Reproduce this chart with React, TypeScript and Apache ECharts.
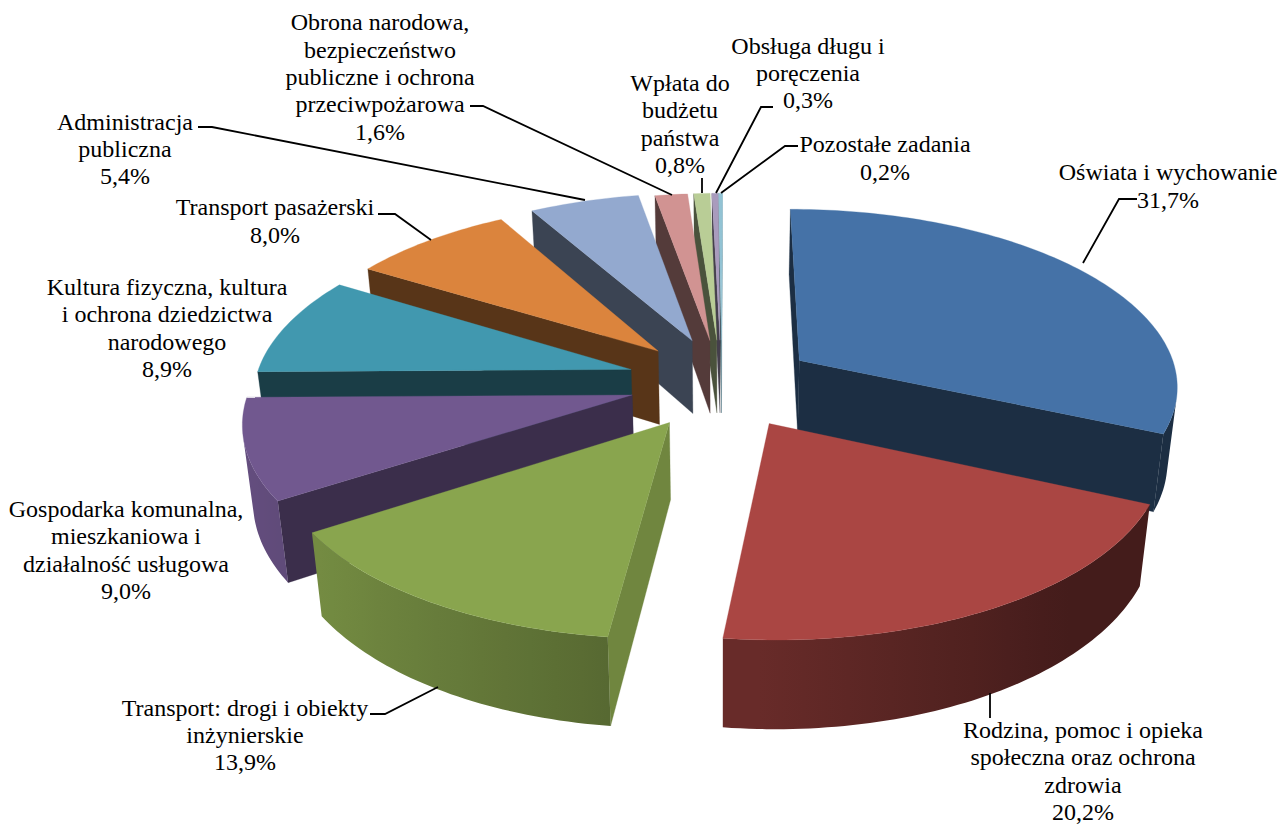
import React, { useEffect, useRef } from "react";
import * as echarts from "echarts";

// ---- data (clockwise from the back of the pie) ----
const categories: string[][] = [
  ["Oświata i wychowanie"],
  ["Rodzina, pomoc i opieka", "społeczna oraz ochrona", "zdrowia"],
  ["Transport: drogi i obiekty", "inżynierskie"],
  ["Gospodarka komunalna,", "mieszkaniowa i", "działalność usługowa"],
  ["Kultura fizyczna, kultura", "i ochrona dziedzictwa", "narodowego"],
  ["Transport pasażerski"],
  ["Administracja", "publiczna"],
  ["Obrona narodowa,", "bezpieczeństwo", "publiczne i ochrona", "przeciwpożarowa"],
  ["Wpłata do", "budżetu", "państwa"],
  ["Obsługa długu i", "poręczenia"],
  ["Pozostałe zadania"],
];
const values: number[] = [31.7, 20.2, 13.9, 9.0, 8.9, 8.0, 5.4, 1.6, 0.8, 0.3, 0.2];

// ---- styles and layout ----
const topColors = ["#4572A7", "#AA4643", "#89A54E", "#71588F", "#4198AF", "#DB843D", "#93A9CF", "#D19392", "#B9CD96", "#A99BBD", "#92C3D4"];
const labelCentres: [number, number][] = [
  [1168, 186], [1083, 771], [245, 735], [126, 550], [167, 328], [275, 221],
  [125, 149], [380, 77], [680, 124], [808, 73], [885, 158],
];
const sliceNudge: [number, number][] = [
  [0, 0], [0, 0], [0, 0], [2, -2], [5, -3], [5, -2], [5, -3], [4, -1], [4, -1], [3, -1], [2, -1],
];
const apexNudgeX: number[] = [0, 0, 0, 3, 1, 2, 3, 1, 1, 1, 1];
const leaders: ([number, number][] | null)[] = [
  [[1137, 199], [1119, 199], [1083, 263]],
  [[990, 693], [990, 718]],
  [[370, 714], [385, 714], [438, 687]],
  null,
  null,
  [[378, 214], [395, 214], [431, 240]],
  [[198, 127], [212, 127], [585, 200]],
  [[470, 106], [483, 106], [672, 195]],
  [[702, 178], [702, 193]],
  [[773, 107], [761, 107], [716, 193]],
  [[798, 146], [785, 146], [721, 193]],
];

// perspective camera parameters
const CX = 721, CY = 384, SX = 380, SY = 176.7, PERSP = 0.131, DEPTH = 75, CONV = 0.022, EXPLODE = 0.25;

const project = (X: number, Y: number, d: number): [number, number] => {
  const w = 1 + PERSP * Y;
  return [CX + (SX * X) / (w + CONV * d), CY - (SY * Y - DEPTH * d) / w];
};

const shade = (hex: string, r: number) => {
  const n = parseInt(hex.slice(1), 16);
  const c = (s: number) => Math.round(((n >> s) & 255) * r);
  return `rgb(${c(16)},${c(8)},${c(0)})`;
};

const total = values.reduce((a, b) => a + b, 0);
const TWO_PI = Math.PI * 2;
let running = 0;
const slices = values.map((v, i) => {
  const a0 = (running / total) * TWO_PI;
  running += v;
  const a1 = (running / total) * TWO_PI;
  const mid = (a0 + a1) / 2;
  return { i, a0, a1, ox: EXPLODE * Math.sin(mid), oy: EXPLODE * Math.cos(mid), back: Math.cos(mid) };
});
const drawOrder = [...slices].sort((a, b) => b.back - a.back);

const faceVisible = (p: number[], q: number[], pb: number[], qb: number[]) => {
  const mx = (pb[0] + qb[0]) / 2 - p[0];
  const my = (pb[1] + qb[1]) / 2 - p[1];
  return (q[0] - p[0]) * my - (q[1] - p[1]) * mx < 0;
};

const radialRatio = (nx: number) => 0.4 + (nx > 0 ? 0.42 * nx * nx : 0);
const arcRatio = (nx: number) => Math.max(0.4, 0.6 - 0.3 * nx);

const buildSlice = (s: (typeof slices)[number]) => {
  const col = topColors[s.i];
  const [nudgeX, nudgeY] = sliceNudge[s.i];
  const at = (X: number, Y: number, d: number, dx = nudgeX): [number, number] => {
    const p = project(X, Y, d);
    return [p[0] + dx, p[1] + nudgeY];
  };
  const steps = Math.max(2, Math.ceil((s.a1 - s.a0) / 0.02));
  const angs: number[] = [];
  for (let k = 0; k <= steps; k++) angs.push(s.a0 + ((s.a1 - s.a0) * k) / steps);
  const ground = angs.map((a) => [s.ox + Math.sin(a), s.oy + Math.cos(a)]);
  const top = ground.map((g) => at(g[0], g[1], 0));
  const bot = ground.map((g) => at(g[0], g[1], 1));
  const apexT = at(s.ox, s.oy, 0, apexNudgeX[s.i]);
  const apexB = at(s.ox, s.oy, 1, apexNudgeX[s.i]);
  const children: any[] = [];
  const poly = (points: number[][], fill: any) => ({
    type: "polygon",
    shape: { points },
    style: { fill, stroke: typeof fill === "string" ? fill : undefined, lineWidth: typeof fill === "string" ? 0.3 : 0 },
  });

  // radial walls
  if (faceVisible(apexT, top[0], apexB, bot[0])) {
    const nx = Math.sin(s.a0 - Math.PI / 2);
    children.push(poly([apexT, top[0], bot[0], apexB], shade(col, radialRatio(nx))));
  }
  if (faceVisible(top[steps], apexT, bot[steps], apexB)) {
    const nx = Math.sin(s.a1 + Math.PI / 2);
    children.push(poly([top[steps], apexT, apexB, bot[steps]], shade(col, radialRatio(nx))));
  }

  // curved wall, in visible runs
  let k = 0;
  while (k < steps) {
    if (!faceVisible(top[k], top[k + 1], bot[k], bot[k + 1])) {
      k++;
      continue;
    }
    let e = k;
    while (e < steps && faceVisible(top[e], top[e + 1], bot[e], bot[e + 1])) e++;
    const t = top.slice(k, e + 1);
    const b = bot.slice(k, e + 1).reverse();
    const pts = [...t, ...b];
    const xs = pts.map((p) => p[0]);
    const minX = Math.min(...xs);
    const maxX = Math.max(...xs);
    const stops: { offset: number; color: string }[] = [];
    for (let m = k; m <= e; m += Math.max(1, Math.floor((e - k) / 12))) {
      stops.push({
        offset: maxX > minX ? Math.min(1, Math.max(0, (top[m][0] - minX) / (maxX - minX))) : 0,
        color: shade(col, arcRatio(Math.sin(angs[m]))),
      });
    }
    stops.sort((u, v) => u.offset - v.offset);
    children.push(poly(pts, new echarts.graphic.LinearGradient(0, 0, 1, 0, stops)));
    k = e;
  }

  // top face
  children.push(poly([apexT, ...top], col));
  return { type: "group", children };
};

const pctLabel = (v: number) => v.toFixed(1).replace(".", ",") + "%";

export default function App() {
  const ref = useRef<HTMLDivElement>(null);
  useEffect(() => {
    document.body.style.margin = "0";
    const chart = echarts.init(ref.current!, null, { renderer: "svg" });
    const graphic: any[] = [];
    leaders.forEach((l) => {
      if (l) graphic.push({ type: "polyline", silent: true, z: 5, shape: { points: l }, style: { stroke: "#000", lineWidth: 1.8, fill: "none" } });
    });
    categories.forEach((lines, i) => {
      graphic.push({
        type: "text",
        silent: true,
        z: 6,
        x: labelCentres[i][0],
        y: labelCentres[i][1],
        style: {
          text: [...lines, pctLabel(values[i])].join("\n"),
          font: '24px "Liberation Serif"',
          fill: "#000",
          align: "center",
          verticalAlign: "middle",
          lineHeight: 27.4,
        },
      });
    });
    chart.setOption({
      animation: false,
      backgroundColor: "#fff",
      graphic,
      series: [
        {
          type: "custom",
          coordinateSystem: "none",
          silent: true,
          clip: false,
          data: drawOrder.map((s) => [values[s.i], s.i]),
          renderItem: (params: any) => buildSlice(drawOrder[params.dataIndex]),
        },
      ],
    });
    return () => chart.dispose();
  }, []);
  return <div ref={ref} style={{ width: 1287, height: 824 }} />;
}
